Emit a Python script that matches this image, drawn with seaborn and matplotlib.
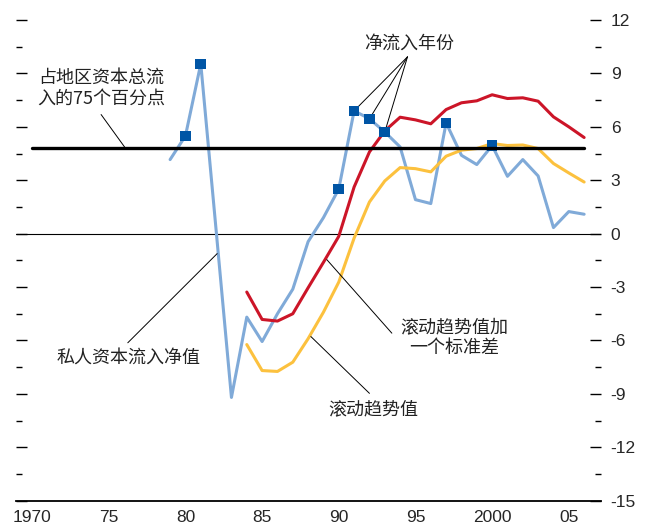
import matplotlib
matplotlib.use('Agg')
import matplotlib.pyplot as plt
import seaborn as sns
import pandas as pd
from matplotlib.ticker import FixedLocator, MultipleLocator

# 数据
years_flow = list(range(1979, 2007))
net_flow = [4.16, 5.49, 9.54, 0.2, -9.2, -4.69, -6.06, -4.5, -3.12, -0.45,
            0.9, 2.51, 6.9, 6.45, 5.71, 4.87, 1.91, 1.69, 6.22, 4.4,
            3.88, 4.95, 3.22, 4.16, 3.24, 0.34, 1.24, 1.09]

years_trend = list(range(1984, 2007))
trend = [-6.23, -7.69, -7.74, -7.22, -5.9, -4.41, -2.72, -0.25, 1.78, 2.96,
         3.71, 3.65, 3.47, 4.35, 4.69, 4.78, 5.06, 4.95, 4.98, 4.78,
         3.94, 3.41, 2.9]
trend_plus_sd = [-3.28, -4.82, -4.91, -4.5, -3.04, -1.61, -0.15, 2.62, 4.59, 5.77,
                 6.54, 6.39, 6.17, 6.97, 7.35, 7.46, 7.8, 7.59, 7.63, 7.44,
                 6.56, 6.0, 5.4]

surge_years = [1980, 1981, 1990, 1991, 1992, 1993, 1997, 2000]
threshold = 4.82
threshold_span = [1970, 2006]

y_ticks = list(range(-15, 13, 3))
x_ticks = list(range(1970, 2006, 5))
x_tick_labels = ['1970', '75', '80', '85', '90', '95', '2000', '05']

# 样式
sns.set_style('white')
plt.rcParams['font.family'] = ['Noto Sans CJK SC', 'DejaVu Sans']
plt.rcParams['axes.unicode_minus'] = False
num_font = ['Liberation Sans Narrow', 'Liberation Sans', 'DejaVu Sans']

df_flow = pd.DataFrame({'year': years_flow, 'value': net_flow})
df_trend = pd.DataFrame({'year': years_trend, 'trend': trend, 'upper': trend_plus_sd})
df_surge = df_flow[df_flow['year'].isin(surge_years)]
df_thr = pd.DataFrame({'year': threshold_span, 'value': [threshold] * 2})

fig = plt.figure(figsize=(6.49, 5.28), dpi=100)
ax = fig.add_axes([16 / 649, 1 - 500.7 / 528, 585 / 649, 480.7 / 528])

ax.axhline(0, color='black', lw=0.8, zorder=1)
sns.lineplot(data=df_flow, x='year', y='value', color='#80aad8', lw=2.2, ax=ax, zorder=2)
sns.lineplot(data=df_trend, x='year', y='trend', color='#fcc13e', lw=2.2, ax=ax, zorder=2)
sns.lineplot(data=df_trend, x='year', y='upper', color='#cc1528', lw=2.2, ax=ax, zorder=2)
sns.scatterplot(data=df_surge, x='year', y='value', marker='s', s=58, color='#0055a5',
                edgecolor='none', linewidth=0, ax=ax, zorder=4)
sns.lineplot(data=df_thr, x='year', y='value', color='black', lw=2.4, ax=ax, zorder=5)

# 坐标轴
ax.set_xlim(1968.95, 2007.1)
ax.set_ylim(-15, 12)
ax.set_xlabel('')
ax.set_ylabel('')
for side in ['left', 'right', 'top']:
    ax.spines[side].set_visible(False)
ax.spines['bottom'].set_linewidth(1.3)
ax.spines['bottom'].set_color('black')

ax.xaxis.set_major_locator(FixedLocator(x_ticks))
ax.xaxis.set_minor_locator(FixedLocator(list(range(1970, 2007))))
ax.set_xticklabels(x_tick_labels, family=num_font, fontsize=12.5)
ax.tick_params(axis='x', which='major', direction='in', length=8, width=1.0, pad=7, color='black')
ax.tick_params(axis='x', which='minor', direction='in', length=4, width=1.0, color='black')

ax.yaxis.set_ticks_position('both')
ax.yaxis.set_major_locator(FixedLocator(y_ticks))
ax.yaxis.set_minor_locator(MultipleLocator(1.5))
ax.set_yticklabels([str(v) for v in y_ticks], family=num_font, fontsize=12.5)
ax.tick_params(axis='y', which='both', direction='in', labelleft=False, labelright=True,
               left=True, right=True, color='black', width=1.0)
ax.tick_params(axis='y', which='major', length=8, pad=7)
ax.tick_params(axis='y', which='minor', length=4.5)

# 标注
fs = 13
ax.text(1974.53, 8.17, '占地区资本总流\n入的75个百分点', ha='center', va='center',
        fontsize=fs, linespacing=1.15, color='#222222')
ax.annotate('', xy=(1976.07, threshold), xytext=(1974.5, 6.69),
            arrowprops=dict(arrowstyle='-', color='black', lw=0.7, shrinkA=0, shrinkB=0))

ax.text(1994.6, 10.69, '净流入年份', ha='center', va='center', fontsize=fs, color='#222222')
for yr in [1991, 1992, 1993]:
    val = df_flow.loc[df_flow['year'] == yr, 'value'].iloc[0]
    ax.annotate('', xy=(yr, val), xytext=(1994.48, 9.93),
                arrowprops=dict(arrowstyle='-', color='black', lw=0.7, shrinkA=0, shrinkB=2))

ax.text(1976.28, -6.94, '私人资本流入净值', ha='center', va='center', fontsize=fs, color='#222222')
ax.annotate('', xy=(1982.07, -1.12), xytext=(1976.24, -6.13),
            arrowprops=dict(arrowstyle='-', color='black', lw=0.7, shrinkA=0, shrinkB=0))

ax.text(1997.53, -5.83, '滚动趋势值加\n一个标准差', ha='center', va='center', fontsize=fs,
        linespacing=1.15, color='#222222')
ax.annotate('', xy=(1989.22, -1.46), xytext=(1993.46, -5.59),
            arrowprops=dict(arrowstyle='-', color='black', lw=0.7, shrinkA=0, shrinkB=0))

ax.text(1992.27, -9.84, '滚动趋势值', ha='center', va='center', fontsize=fs, color='#222222')
ax.annotate('', xy=(1988.18, -5.78), xytext=(1992.0, -8.97),
            arrowprops=dict(arrowstyle='-', color='black', lw=0.7, shrinkA=0, shrinkB=0))

fig.savefig('out.png', dpi=100)
